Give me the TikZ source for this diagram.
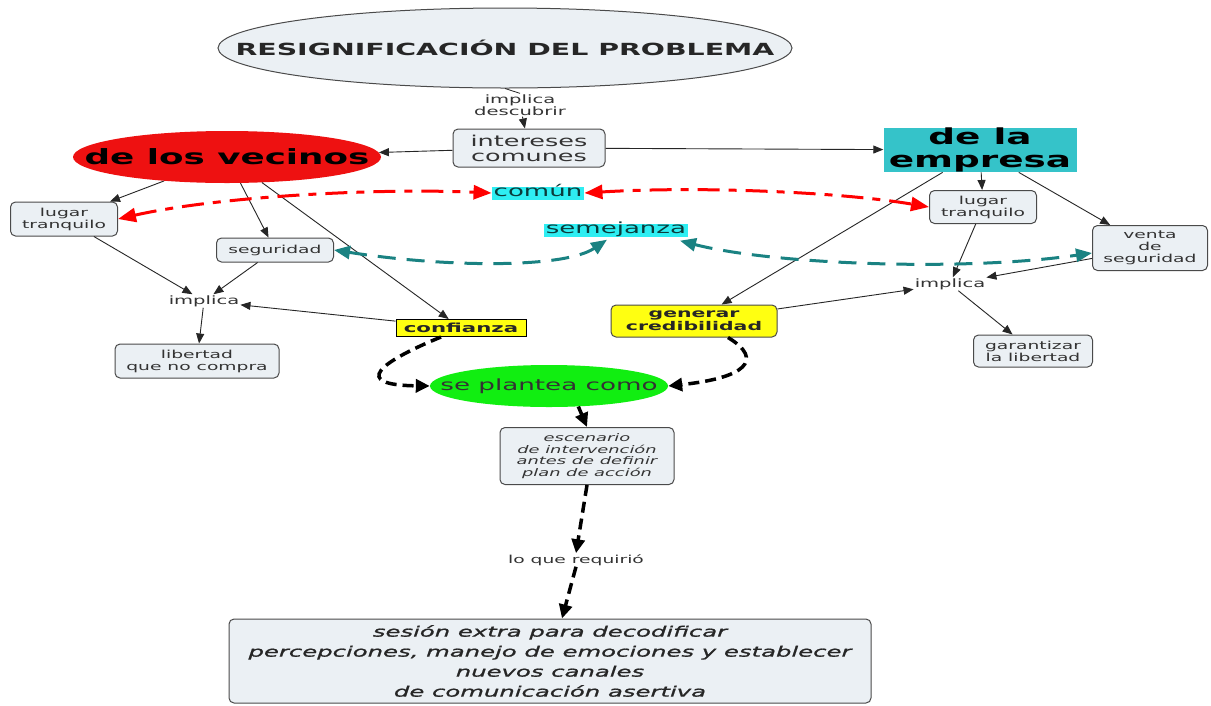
\documentclass[tikz,border=0pt]{standalone}
\usepackage{fontspec}
\setmainfont{DejaVu Sans}[FakeStretch=1.7]
\newfontfamily\heavyital{DejaVu Sans Oblique}[FakeStretch=1.7, FakeBold=1.2]
\usetikzlibrary{arrows.meta,shapes.geometric,calc}
\definecolor{boxfill}{HTML}{EBF0F4}
\definecolor{boxline}{HTML}{4A4A4A}
\definecolor{txt}{HTML}{333333}
\definecolor{vred}{HTML}{EE1111}
\definecolor{eteal}{HTML}{35C3C9}
\definecolor{lcyan}{HTML}{2EEEF2}
\definecolor{dteal}{HTML}{1A8282}
\definecolor{ygreen}{HTML}{11EE11}
\definecolor{yel}{HTML}{FFFF11}
\definecolor{ctext}{HTML}{0B3B3B}
\newcommand\myfs[2]{\fontsize{#1}{#2}\selectfont}
\tikzset{
  cbox/.style={draw=boxline, fill=boxfill, rounded corners=5pt, line width=1pt, inner sep=0pt, align=center, text=txt, font=\myfs{11}{12}},
  plain/.style={inner sep=1pt, align=center, text=txt, font=\myfs{11.5}{12}},
  conn/.style={draw=black!85, line width=0.9pt, -{Triangle[length=10pt,width=8pt]}},
  bdash/.style={draw=black, line width=3.5pt, dash pattern=on 11pt off 6pt, -{Triangle[length=14pt,width=13pt]}},
  rdash/.style={draw=red, line width=3pt, dash pattern=on 22pt off 9pt on 8pt off 9pt, {Triangle[length=18pt,width=14pt]}-{Triangle[length=18pt,width=14pt]}},
  tdash/.style={draw=dteal, line width=3pt, dash pattern=on 18pt off 11pt, {Triangle[length=16pt,width=13pt]}-{Triangle[length=16pt,width=13pt]}},
  tag/.style={fill=lcyan, inner ysep=0pt, inner xsep=2pt, text=ctext, font=\myfs{15.3}{15}, text height=10pt, text depth=3pt},
  oval/.style={ellipse, inner sep=0pt}
}
\begin{document}
\begin{tikzpicture}[x=1pt,y=-1pt]
\fill[white] (0,0) rectangle (1211,705);
\useasboundingbox (0,0) rectangle (1211,705);

% nodes
\node[oval, draw=boxline, fill=boxfill, line width=1pt, minimum width=574pt, minimum height=80pt, text=black!85, font=\bfseries\myfs{16.7}{17}] (title) at (505,48) {\makebox[0pt]{RESIGNIFICACIÓN DEL PROBLEMA}};
\node[plain] (descubrir) at (520,105) {implica\\descubrir};
\node[cbox, minimum width=152pt, minimum height=38pt, font=\myfs{15}{15}] (intereses) at (529,148) {intereses\\comunes};
\node[oval, fill=vred, minimum width=308pt, minimum height=52pt, text=black, font=\bfseries\myfs{21}{21}] (vecinos) at (227,157) {\makebox[0pt]{de los vecinos}};
\node[fill=eteal, minimum width=193pt, minimum height=44pt, inner sep=0pt, align=center, text=black, font=\bfseries\myfs{22}{23}] (empresa) at (980,150) {de la\\empresa};
\node[tag] (comun) at (538,193) {común};
\node[tag] (semejanza) at (616,230) {semejanza};

\node[cbox, minimum width=107pt, minimum height=34pt] (lugar1) at (64,219) {lugar\\tranquilo};
\node[cbox, minimum width=117pt, minimum height=24pt] (seguridad) at (275,250) {seguridad};
\node[plain] (implica1) at (204,301) {implica};
\node[cbox, minimum width=164pt, minimum height=34pt] (libertad) at (197,361) {libertad\\que no compra};
\node[draw=black, fill=yel, line width=1pt, minimum width=130pt, minimum height=17pt, inner sep=0pt, text=black!85, font=\bfseries\myfs{12.5}{13}] (confianza) at (461,328) {confianza};
\node[draw=boxline, fill=yel, rounded corners=5pt, line width=1pt, minimum width=166pt, minimum height=32pt, inner sep=0pt, align=center, text=black!85, font=\bfseries\myfs{12}{13}] (generar) at (694,321) {generar\\credibilidad};
\node[oval, fill=ygreen, minimum width=238pt, minimum height=42pt, text=black!80, font=\myfs{15.4}{16}] (plantea) at (549,386) {\makebox[0pt]{se plantea como}};
\node[cbox, minimum width=174pt, minimum height=57pt, font=\itshape\myfs{10.5}{11.5}] (escenario) at (587,456) {escenario\\de intervención\\antes de definir\\plan de acción};
\node[plain, font=\myfs{11}{12}] (loque) at (576,560) {lo que requirió};
\node[cbox, minimum width=642pt, minimum height=84pt, text=black!85, font=\heavyital\myfs{14.3}{20}] (bottom) at (550,661) {sesión extra para decodificar\\percepciones, manejo de emociones y establecer\\nuevos canales\\de comunicación asertiva};

\node[cbox, minimum width=107pt, minimum height=33pt] (lugar2) at (983,207) {lugar\\tranquilo};
\node[cbox, minimum width=115pt, minimum height=45pt] (venta) at (1150,248) {venta\\de\\seguridad};
\node[plain] (implica2) at (950,284) {implica};
\node[cbox, minimum width=119pt, minimum height=32pt] (garantizar) at (1033,351) {garantizar\\la libertad};

% thin connectors
\draw[draw=black!85, line width=0.8pt] (title.south) -- (descubrir.north);
\draw[conn] (descubrir) -- (intereses);
\draw[conn] (intereses) -- (vecinos);
\draw[conn] (intereses) -- (empresa);
\draw[conn] (vecinos) -- (lugar1);
\draw[conn] (vecinos) -- (seguridad);
\draw[conn] (vecinos) -- (confianza);
\draw[conn] (lugar1) -- (implica1);
\draw[conn] (seguridad) -- (implica1);
\draw[conn] (implica1) -- (libertad);
\draw[conn] (confianza) -- (implica1);
\draw[conn] (empresa) -- (lugar2);
\draw[conn] (empresa) -- (venta);
\draw[conn] (empresa) -- (generar);
\draw[conn] (lugar2) -- (implica2);
\draw[conn] (venta) -- (implica2);
\draw[conn] (generar) -- (implica2);
\draw[conn] (implica2) -- (garantizar);

% red dashed
\draw[rdash] (lugar1.east) .. controls (220,196) and (380,188) .. (comun.west);
\draw[rdash] (comun.east) .. controls (700,186) and (840,192) .. (lugar2.west);

% teal dashed
\draw[tdash] (seguridad.east) .. controls (450,268) and (565,268) .. ($(semejanza.south)+(-9,3)$);
\draw[tdash] ($(semejanza.south)+(64,4)$) .. controls (770,264) and (960,272) .. ($(venta.west)+(0,5)$);

% black thick dashed
\draw[bdash] ($(confianza.south)+(-20,0)$) .. controls (380,362) and (350,385) .. (plantea.west);
\draw[bdash] ($(generar.south)+(34,0)$) .. controls (765,360) and (745,378) .. (plantea.east);
\draw[bdash] (plantea.-35) -- (escenario.north);
\draw[bdash] (escenario.south) -- (loque.north);
\draw[bdash] (loque.south) -- ($(bottom.north)+(12,0)$);
\end{tikzpicture}
\end{document}
